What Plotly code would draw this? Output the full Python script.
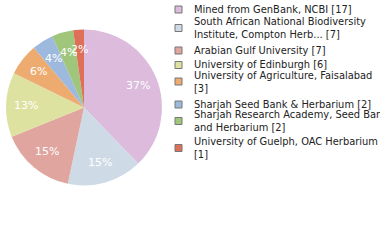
import math
import plotly.graph_objects as go

labels = [
    "Mined from GenBank, NCBI [17]",
    "South African National Biodiversity<br>Institute, Compton Herb... [7]",
    "Arabian Gulf University [7]",
    "University of Edinburgh [6]",
    "University of Agriculture, Faisalabad<br>[3]",
    "Sharjah Seed Bank & Herbarium [2]",
    "Sharjah Research Academy, Seed Bank<br>and Herbarium [2]",
    "University of Guelph, OAC Herbarium<br>[1]",
]
values = [17, 7, 7, 6, 3, 2, 2, 1]
colors = ["#dcbbdd", "#cedbe6", "#e0a59e", "#dee2a0", "#eeab70", "#9db9de", "#9fc67b", "#de6f58"]
legend_y = [9.5, 28, 50.5, 65, 81.5, 104.5, 121, 148]

W, H = 380, 240
cx, cy, R = 84, 107.5, 78

total = sum(values)
pct = [f"{int(v * 100 // total)}%" for v in values]

fig = go.Figure(go.Pie(
    values=values,
    labels=[l.replace("<br>", " ") for l in labels],
    marker=dict(colors=colors, line=dict(width=0)),
    sort=False,
    direction="clockwise",
    rotation=0,
    textinfo="none",
    hoverinfo="skip",
    domain=dict(x=[(cx - R) / W, (cx + R) / W], y=[(H - cy - R) / H, (H - cy + R) / H]),
    showlegend=False,
))

annotations = []
cum = 0
for v, p in zip(values, pct):
    mid = (cum + v / 2) / total * 2 * math.pi
    cum += v
    r = 0.74 * R
    x = cx + r * math.sin(mid)
    y = cy - r * math.cos(mid)
    annotations.append(dict(x=x / W, y=1 - y / H, xref="paper", yref="paper", text=p,
                            showarrow=False, xanchor="center", yanchor="middle",
                            font=dict(family="DejaVu Sans", size=11, color="white")))

shapes = []
for lab, c, ly in zip(labels, colors, legend_y):
    shapes.append(dict(type="rect", xref="paper", yref="paper",
                       x0=175 / W, x1=182 / W, y0=1 - (ly + 3.5) / H, y1=1 - (ly - 3.5) / H,
                       fillcolor=c, line=dict(color="#777777", width=1)))
    annotations.append(dict(x=192 / W, y=1 - ly / H, xref="paper", yref="paper", text=lab,
                            showarrow=False, xanchor="left", yanchor="middle", align="left",
                            font=dict(family="DejaVu Sans", size=9.9, color="#222222")))

fig.update_layout(width=W, height=H, margin=dict(l=0, r=0, t=0, b=0),
                  paper_bgcolor="white", plot_bgcolor="white",
                  annotations=annotations, shapes=shapes)
fig.write_html("out.html", post_script="document.body.style.margin='0';",
               config={"displayModeBar": False, "staticPlot": True})
